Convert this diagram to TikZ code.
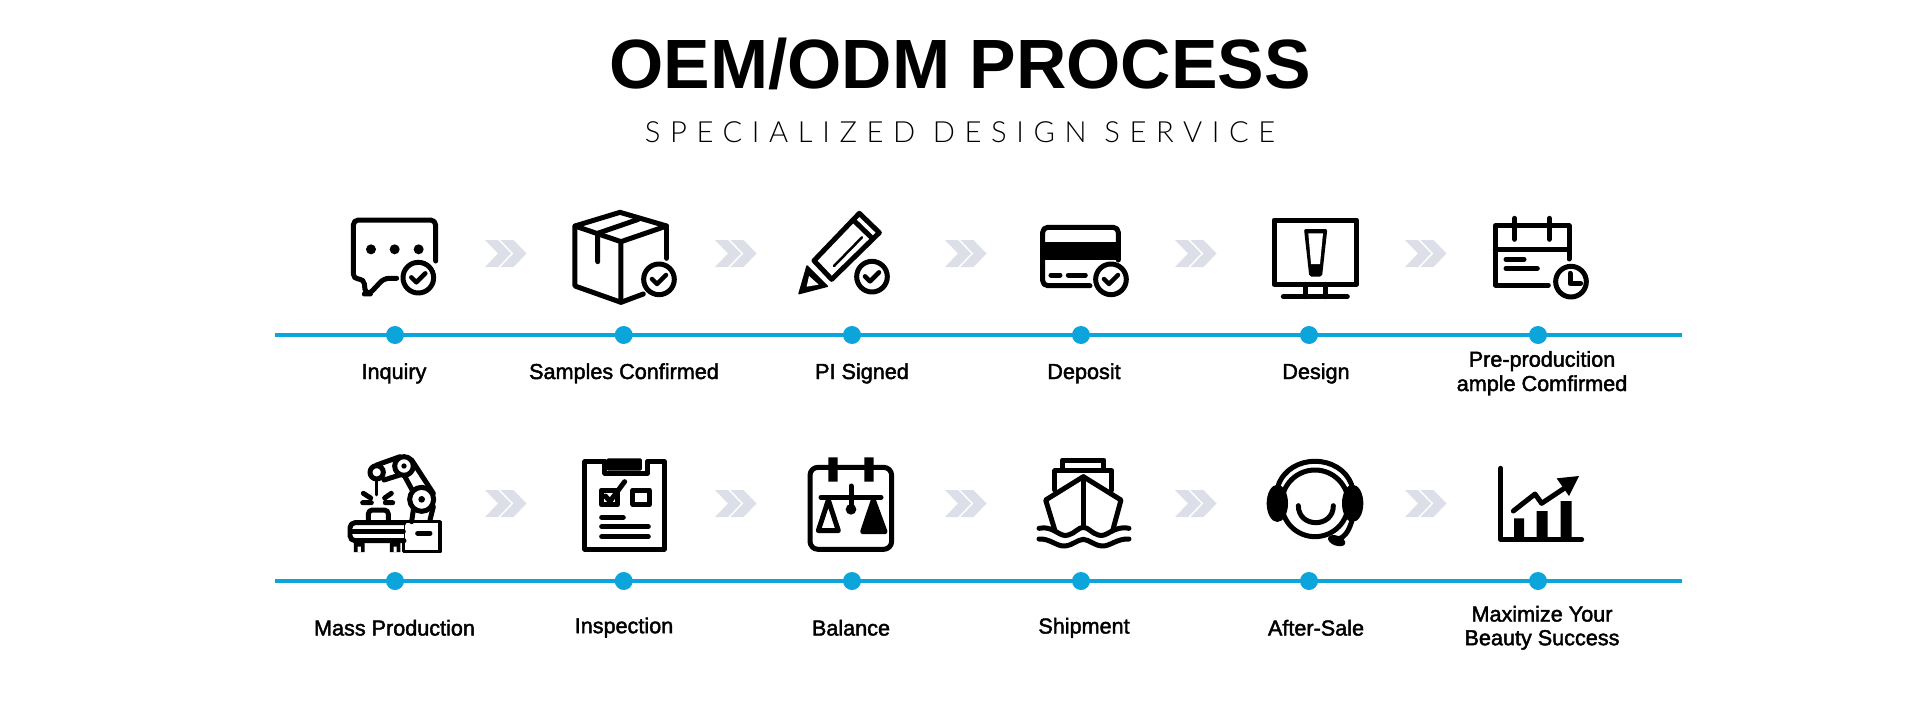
\documentclass[tikz,border=0pt]{standalone}
\usepackage{fontspec}
\usepackage{xcolor}
\usetikzlibrary{positioning,calc}
\setmainfont{Liberation Sans}
\newfontfamily\titlefont{Liberation Sans}
\newfontfamily\subfont[UprightFont=* Light,LetterSpace=33]{Lato}
\newfontfamily\labelfont[FakeBold=2]{Liberation Sans}
\definecolor{linkblue}{HTML}{0BA5DB}
\definecolor{chevgrey}{HTML}{DCDFE8}
\tikzset{
    iconarea/.style={shift={#1},x=0.0066667cm,y=-0.0066667cm},
    iconline/.style={line width=0.1cm,line cap=round,line join=round},
    timeline/.style={draw=linkblue,line width=0.08cm},
    stepdot/.style={circle,fill=linkblue,minimum size=0.36cm,inner sep=0pt},
    steplabel/.style={font=\labelfont\fontsize{12.3}{13.7}\selectfont,align=center,anchor=base,inner sep=0pt},
    pics/badge/.style={code={
        \draw[iconline,fill=white] (0,0) circle (46);
        \draw[iconline,line width=0.09cm] (-21,-1) -- (-6,14) -- (21,-13);
    }},
    pics/chevron/.style={code={
        \fill[chevgrey] (0,0) -- (13,0) -- (26,13.5) -- (13,27) -- (0,27) -- (13,13.5) -- cycle;
        \fill[chevgrey] (15.5,0) -- (28.5,0) -- (41.5,13.5) -- (28.5,27) -- (15.5,27) -- (28.5,13.5) -- cycle;
    }},
}
\begin{document}
\begin{tikzpicture}[x=0.02cm,y=-0.02cm]
    \useasboundingbox (0,0) rectangle (1920,700);

    % Heading
    \node[font=\titlefont\bfseries\fontsize{39.7}{40}\selectfont,inner sep=0pt,anchor=base] (heading) at (960,88) {OEM/ODM PROCESS};
    \node[font=\subfont\fontsize{16.6}{17}\selectfont,inner sep=0pt,anchor=base] (subheading) at (960,142) {SPECIALIZED DESIGN SERVICE};

    % First row line
    \coordinate (startA) at (275,335);
    \coordinate (endA) at (1682,335);
    \draw[timeline] (startA) -- (endA);
    \node[stepdot] (inquiry) at (395,335) {};
    \node[stepdot] (samples) at (623.7,335) {};
    \node[stepdot] (signed) at (852,335) {};
    \node[stepdot] (deposit) at (1081,335) {};
    \node[stepdot] (design) at (1309,335) {};
    \node[stepdot] (preprod) at (1538,335) {};

    % Second row line
    \coordinate (startB) at (275,581);
    \coordinate (endB) at (1682,581);
    \draw[timeline] (startB) -- (endB);
    \node[stepdot] (mass) at (395,581) {};
    \node[stepdot] (inspection) at (623.7,581) {};
    \node[stepdot] (balance) at (852,581) {};
    \node[stepdot] (shipment) at (1081,581) {};
    \node[stepdot] (aftersale) at (1309,581) {};
    \node[stepdot] (maximize) at (1538,581) {};

    % Labels
    \node[steplabel] (inquirytext) at (394,379) {Inquiry};
    \node[steplabel] (samplestext) at (624,379) {Samples Confirmed};
    \node[steplabel] (signedtext) at (862,379) {PI Signed};
    \node[steplabel] (deposittext) at (1084,379) {Deposit};
    \node[steplabel] (designtext) at (1316,379) {Design};
    \node[steplabel] (preprodtext) at (1542,366.7) {Pre-producition};
    \node[steplabel] (preprodtexttwo) at (1542,391) {ample Comfirmed};
    \node[steplabel] (masstext) at (394.5,635.5) {Mass Production};
    \node[steplabel] (inspectiontext) at (624,633.2) {Inspection};
    \node[steplabel] (balancetext) at (851,635.5) {Balance};
    \node[steplabel] (shipmenttext) at (1084,633.5) {Shipment};
    \node[steplabel] (aftersaletext) at (1316,635.5) {After-Sale};
    \node[steplabel] (maximizetext) at (1542,621.5) {Maximize Your};
    \node[steplabel] (maximizetexttwo) at (1542,645.2) {Beauty Success};

    % Chevrons
    \pic at (485,240) {chevron};
    \pic at (715,240) {chevron};
    \pic at (945,240) {chevron};
    \pic at (1175,240) {chevron};
    \pic at (1405,240) {chevron};
    \pic at (485,490) {chevron};
    \pic at (715,490) {chevron};
    \pic at (945,490) {chevron};
    \pic at (1175,490) {chevron};
    \pic at (1405,490) {chevron};

    % Inquiry and samples icons
    \begin{scope}[iconarea={(260,190)},iconline]
        \draw[rounded corners=0.1cm] (527,213) -- (527,90) -- (280,90) -- (280,267) -- (312,267) -- (316,312) -- (328,312) -- (372,265) -- (410,265);
        \fill (333,178) circle (15) (404,178) circle (15) (476,178) circle (15);
        \pic at (475,263) {badge};
        \draw (1080,67) -- (1220,108) -- (1083,155) -- (945,108) -- cycle;
        \draw (945,108) -- (945,288) -- (1083,337) -- (1083,155);
        \draw (1220,108) -- (1220,205);
        \draw (1083,337) -- (1150,312);
        \draw (1013,215) -- (1013,130) -- (1135,88);
        \pic at (1197,268) {badge};
    \end{scope}

    % Signed and deposit icons
    \begin{scope}[iconarea={(740,190)},iconline]
        \draw (358,70) -- (418,128) -- (275,268) -- (222,212) -- cycle;
        \draw (340,90) -- (398,146);
        \draw[line width=0.05cm] (282,228) -- (366,142);
        \fill[rounded corners=0.02cm] (200,224) -- (266,290) -- (174,314) -- cycle;
        \fill[white] (207,258) -- (236,284) -- (200,290) -- cycle;
        \pic at (396,260) {badge};
        \draw[rounded corners=0.1cm] (1135,210) -- (1135,112) -- (908,112) -- (908,287) -- (1050,287);
        \fill (908,155) rectangle (1141,210);
        \draw (933,255) -- (960,255) (985,255) -- (1036,255);
        \pic at (1113,268) {badge};
    \end{scope}

    % Design and preproduction icons
    \begin{scope}[iconarea={(1220,190)},iconline]
        \draw (162,90) rectangle (410,283);
        \draw (257,283) -- (257,320) (315,283) -- (315,320);
        \draw (190,320) -- (382,320);
        \fill[rounded corners=0.04cm] (252,117) -- (322,117) -- (306,260) -- (268,260) -- cycle;
        \fill[white] (265,130) -- (309,130) -- (300,222) -- (273,222) -- cycle;
        \draw (1047,207) -- (1047,107) -- (826,107) -- (826,285) -- (985,285);
        \draw (826,178) -- (1047,178);
        \draw (884,85) -- (884,148) (988,85) -- (988,148);
        \draw (858,208) -- (912,208) (858,235) -- (952,235);
        \draw[fill=white] (1053,275) circle (46);
        \draw (1050,250) -- (1050,280) -- (1082,280);
    \end{scope}

    % Production and inspection icons
    \begin{scope}[iconarea={(260,440)},iconline]
        \draw[line width=0.07cm] (430,245) rectangle (540,335);
        \draw (473,280) -- (510,280);
        \draw[rounded corners=0.1cm,fill=white] (432,248) -- (270,248) -- (270,302) -- (432,302);
        \draw (275,275) -- (430,275);
        \fill (282,305) rectangle (314,336) (390,305) rectangle (421,336);
        \fill[white] (293,320) rectangle (303,336) (401,320) rectangle (410,336);
        \draw[rounded corners=0.08cm] (325,242) -- (325,210) -- (385,210) -- (385,242);
        \draw (350,75) -- (420,50) (372,120) -- (435,100);
        \draw (455,60) -- (520,160) (432,105) -- (462,160);
        \draw (520,200) -- (510,240) (460,210) -- (455,245);
        \draw[fill=white] (485,178) circle (36);
        \fill (485,178) circle (10);
        \draw[fill=white] (432,78) circle (28);
        \fill (432,78) circle (8);
        \draw[fill=white] (350,97) circle (20);
        \draw[line width=0.05cm] (350,120) -- (350,165);
        \draw (310,160) -- (332,174) (308,188) -- (334,188) (394,160) -- (374,174) (398,188) -- (376,188);
        \draw (1035,65) -- (975,65) -- (975,327) -- (1213,327) -- (1213,65) -- (1163,65);
        \draw (1035,65) -- (1035,100) -- (1163,100) -- (1163,65);
        \fill[rounded corners=0.03cm] (1040,55) rectangle (1146,92);
        \draw (1024,150) rectangle (1073,194);
        \draw (1119,150) rectangle (1168,194);
        \draw (1036,168) -- (1050,184) -- (1094,125);
        \draw (1025,232) -- (1090,232) (1025,260) -- (1165,260) (1025,290) -- (1165,290);
    \end{scope}

    % Balance and shipment icons
    \begin{scope}[iconarea={(740,440)},iconline]
        \draw[rounded corners=0.16cm] (210,82) rectangle (455,328);
        \fill (265,52) rectangle (293,125) (373,52) rectangle (401,125);
        \draw (243,172) -- (423,172);
        \draw (333,138) -- (333,205);
        \fill (333,208) circle (16);
        \draw (265,180) -- (235,272) -- (295,272) -- cycle;
        \fill[draw=black] (400,180) -- (368,275) -- (435,275) -- cycle;
        \draw (967,85) -- (967,60) -- (1092,60) -- (1092,88);
        \draw (945,150) -- (945,92) -- (1115,92) -- (1115,150);
        \draw (945,272) -- (917,180) -- (1030,110) -- (1143,180) -- (1118,272);
        \draw (1030,110) -- (1030,255);
        \draw (897,265) .. controls (940,255) and (960,295) .. (985,285) .. controls (1005,280) and (1015,262) .. (1030,262) .. controls (1045,262) and (1055,280) .. (1075,285) .. controls (1100,295) and (1120,255) .. (1167,265);
        \draw (897,297) .. controls (930,295) and (950,320) .. (975,318) .. controls (1000,315) and (1010,300) .. (1030,298) .. controls (1050,300) and (1060,315) .. (1085,318) .. controls (1110,320) and (1130,295) .. (1167,297);
    \end{scope}

    % After sale and chart icons
    \begin{scope}[iconarea={(1220,440)},iconline]
        \draw (285,190) circle (100);
        \draw (175,135) .. controls (210,40) and (360,40) .. (395,135);
        \fill (172,190) ellipse (32 and 56);
        \fill (398,190) ellipse (32 and 56);
        \draw (235,197) .. controls (235,265) and (340,265) .. (340,197);
        \draw (395,245) .. controls (385,275) and (375,290) .. (355,298);
        \fill[rotate around={-20:(350,302)}] (350,302) ellipse (27 and 15);
        \draw (842,85) -- (842,298) -- (1085,298);
        \fill (882,235) rectangle (912,298) (950,213) rectangle (983,298) (1022,183) rectangle (1055,298);
        \draw (880,213) -- (945,162) -- (965,190) -- (1040,140);
        \fill (1077,108) -- (1010,115) -- (1047,168) -- cycle;
    \end{scope}
\end{tikzpicture}
\end{document}
